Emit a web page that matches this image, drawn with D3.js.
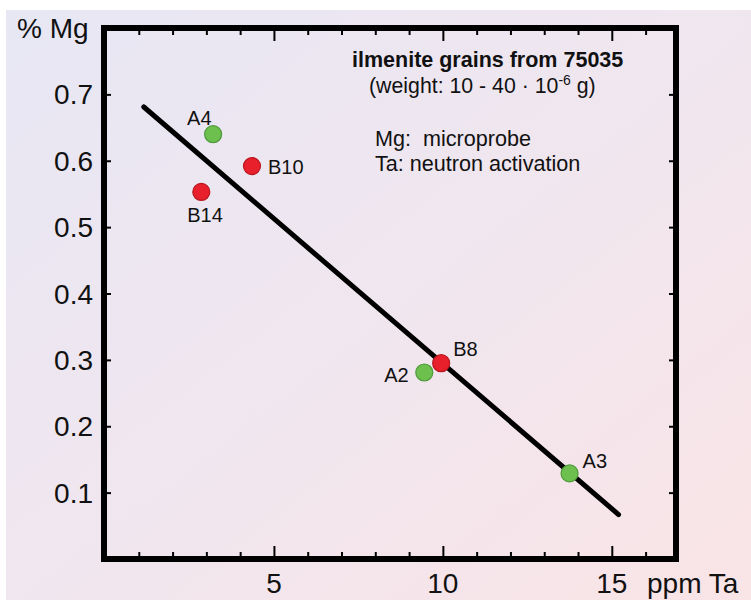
<!DOCTYPE html>
<html><head><meta charset="utf-8">
<script src="https://cdn.jsdelivr.net/npm/d3@7"></script>
<style>html,body{margin:0;padding:0;background:#fff;}svg{display:block;}</style>
</head><body>
<script>
// ---- data ----
const labels  = ["A4", "B10", "B14", "B8", "A2", "A3"];
const taPpm   = [3.2, 4.35, 2.85, 9.95, 9.45, 13.75];
const mgPct   = [0.64, 0.592, 0.553, 0.295, 0.281, 0.129];
const groups  = ["A", "B", "B", "B", "A", "A"];
const fitLineTa = [1.15, 15.2];
const fitLineMg = [0.681, 0.067];
const xMajorTicks = [5, 10, 15];
const xMinorTicks = [1,2,3,4,6,7,8,9,11,12,13,14,16];
const yTicks = [0.1, 0.2, 0.3, 0.4, 0.5, 0.6, 0.7];
const titleLines = ["ilmenite grains from 75035"];
const noteLines = ["Mg:  microprobe", "Ta: neutron activation"];

const W = 751, H = 600;
const svg = d3.select("body").append("svg").attr("width", W).attr("height", H);
const defs = svg.append("defs");
const grad = defs.append("linearGradient").attr("id","bg").attr("x1","0%").attr("y1","0%").attr("x2","100%").attr("y2","100%");
grad.append("stop").attr("offset","0%").attr("stop-color","#e7e7f4");
grad.append("stop").attr("offset","55%").attr("stop-color","#f1e6ee");
grad.append("stop").attr("offset","100%").attr("stop-color","#f9e4e6");
svg.append("rect").attr("x",6).attr("y",10).attr("width",W-6).attr("height",H-10).attr("fill","url(#bg)");

const L = 104, R = 676, T = 28, B = 559;
const x = d3.scaleLinear().domain([0, 16.9]).range([L + 1, R]);
const y = d3.scaleLinear().domain([0, 0.8]).range([B, T]);
const font = "'Liberation Sans', Arial, Helvetica, sans-serif";

function styleAxis(g){
  g.select(".domain").remove();
  g.selectAll(".tick line").attr("stroke","#000").attr("stroke-width",2);
}
// bottom axis ticks (inward)
svg.append("g").attr("transform",`translate(0,${B})`)
  .call(d3.axisBottom(x).tickValues(xMinorTicks).tickSize(-7).tickFormat("")).call(styleAxis);
svg.append("g").attr("transform",`translate(0,${B})`)
  .call(d3.axisBottom(x).tickValues(xMajorTicks).tickSize(-13).tickFormat("")).call(styleAxis);
// top axis
svg.append("g").attr("transform",`translate(0,${T})`)
  .call(d3.axisTop(x).tickValues(xMinorTicks).tickSize(-7).tickFormat("")).call(styleAxis);
svg.append("g").attr("transform",`translate(0,${T})`)
  .call(d3.axisTop(x).tickValues(xMajorTicks).tickSize(-13).tickFormat("")).call(styleAxis);
// left / right
svg.append("g").attr("transform",`translate(${L},0)`)
  .call(d3.axisLeft(y).tickValues(yTicks).tickSize(-7).tickFormat("")).call(styleAxis);
svg.append("g").attr("transform",`translate(${R},0)`)
  .call(d3.axisRight(y).tickValues(yTicks).tickSize(-7).tickFormat("")).call(styleAxis);

// tick labels
svg.append("g").selectAll("text").data(yTicks).join("text")
  .attr("x", 93).attr("y", d => y(d)).attr("dy","0.36em")
  .attr("text-anchor","end").attr("font-family",font).attr("font-size",28).attr("fill","#111")
  .text(d => d3.format(".1f")(d));
svg.append("g").selectAll("text").data(xMajorTicks).join("text")
  .attr("x", d => x(d)).attr("y", 593)
  .attr("text-anchor","middle").attr("font-family",font).attr("font-size",28).attr("fill","#111")
  .text(d => d);
svg.append("text").attr("x",17).attr("y",38).attr("font-family",font).attr("font-size",28).attr("fill","#111").text("% Mg");
svg.append("text").attr("x",647).attr("y",593).attr("font-family",font).attr("font-size",28).attr("fill","#111").text("ppm Ta");

// frame
svg.append("rect").attr("x",L).attr("y",T).attr("width",R-L).attr("height",B-T)
  .attr("fill","none").attr("stroke","#000").attr("stroke-width",6);

// fit line
svg.append("line")
  .attr("x1", x(fitLineTa[0])).attr("y1", y(fitLineMg[0]))
  .attr("x2", x(fitLineTa[1])).attr("y2", y(fitLineMg[1]))
  .attr("stroke","#000").attr("stroke-width",5).attr("stroke-linecap","round");

// points
const pts = labels.map((l,i)=>({l, ta: taPpm[i], mg: mgPct[i], g: groups[i]}));
svg.append("g").selectAll("circle").data(pts).join("circle")
  .attr("cx", d => x(d.ta)).attr("cy", d => y(d.mg)).attr("r", 8.5)
  .attr("fill", d => d.g === "A" ? "#6dbf4e" : "#e8202b")
  .attr("stroke", d => d.g === "A" ? "#4e9a3a" : "#b8161f").attr("stroke-width",1.2);

// point labels (offsets relative to marker)
const labelDx = {A4:-26, B10:16, B14:-14, B8:12, A2:-40, A3:13};
const labelDy = {A4:-9, B10:8, B14:30, B8:-7, A2:10, A3:-5};
svg.append("g").selectAll("text").data(pts).join("text")
  .attr("x", d => x(d.ta) + labelDx[d.l]).attr("y", d => y(d.mg) + labelDy[d.l])
  .attr("font-family",font).attr("font-size",20).attr("fill","#111").text(d => d.l);

// annotation text
svg.append("text").attr("x",352).attr("y",67).attr("font-family",font).attr("font-size",21.5)
  .attr("font-weight","bold").attr("fill","#111").text(titleLines[0]);
const sub = svg.append("text").attr("x",369).attr("y",93).attr("font-family",font).attr("font-size",21.3).attr("fill","#111");
sub.append("tspan").text("(weight: 10 - 40 \u00b7 10");
sub.append("tspan").attr("dy",-8).attr("font-size",14).text("-6");
sub.append("tspan").attr("dy",8).text(" g)");
svg.append("g").selectAll("text").data(noteLines).join("text")
  .attr("x",375).attr("y",(d,i)=>146 + i*25).attr("font-family",font).attr("font-size",21.6).attr("fill","#111")
  .attr("xml:space","preserve").style("white-space","pre").text(d=>d);
</script>
</body></html>
